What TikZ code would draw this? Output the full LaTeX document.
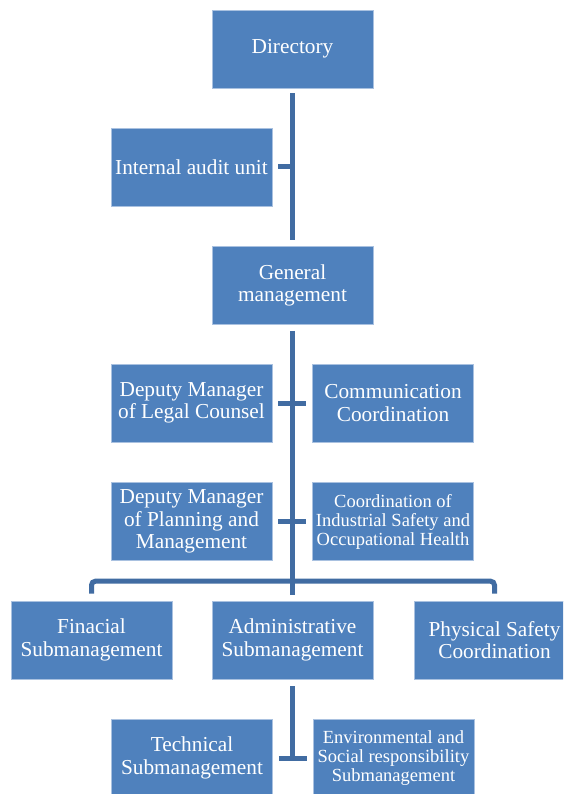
\documentclass[tikz,border=0pt]{standalone}
\usepackage{fontspec}
\setmainfont{Liberation Serif}
\usetikzlibrary{calc}
\definecolor{boxblue}{HTML}{4F81BD}
\definecolor{boxedge}{HTML}{A9C1E0}
\definecolor{linkblue}{HTML}{416CA2}
\tikzset{
  orgbox/.style={rectangle, fill=boxblue, draw=boxedge, line width=0.7pt,
    minimum width=161pt, minimum height=78pt, inner sep=0pt, text=white,
    align=center, font=\fontsize{21.3}{22.3}\selectfont},
  smallbox/.style={orgbox, font=\fontsize{18.5}{19}\selectfont},
  conn/.style={draw=linkblue, line width=5pt, line cap=butt}
}
\begin{document}
\begin{tikzpicture}[x=1pt, y=-1pt]
\clip (0,0) rectangle (563,794);
\fill[white] (0,0) rectangle (563,794);
\node[orgbox] (dir)   at (292.5,49)    {Directory};
\node[orgbox] (audit) at (191.5,167)   {Internal audit unit};
\node[orgbox] (gm)    at (292.5,285.5) {General\\management};
\node[orgbox] (legal) at (191.5,403)   {Deputy Manager\\of Legal Counsel};
\node[orgbox] (comm)  at (393,403)     {Communication\\Coordination};
\node[orgbox] (plan)  at (191.5,521.5) {Deputy Manager\\of Planning and\\Management};
\node[smallbox] (ind) at (393,521.5)   {Coordination of\\Industrial Safety and\\Occupational Health};
\node[orgbox] (fin)   at (91.5,640)    {Finacial\\Submanagement};
\node[orgbox] (adm)   at (292.5,640)   {Administrative\\Submanagement};
\node[orgbox] (phys)  at (494.5,640)   {Physical Safety\\Coordination};
\node[orgbox] (tech)  at (192,758)     {Technical\\Submanagement};
\node[smallbox] (env) at (393.5,758)   {Environmental and\\Social responsibility\\Submanagement};
% connectors
\draw[conn] ($(dir.south)+(0,5)$) -- ($(gm.north)+(0,-6.5)$);
\draw[conn] ($(audit.east)+(6,0)$) -- (audit.east -| dir.south);
\draw[conn] ($(gm.south)+(0,6)$) -- ($(adm.north)+(0,-6)$);
\draw[conn] ($(legal.east)+(6,0)$) -- ($(comm.west)+(-6,0)$);
\draw[conn] ($(plan.east)+(6,0)$) -- ($(ind.west)+(-6,0)$);
\draw[conn, rounded corners=4pt] ($(fin.north)+(0,-7)$) -- ++(0,-12.5) -| ($(phys.north)+(0,-7)$);
\draw[conn] ($(adm.south)+(0,7)$) -- (adm.south |- tech.east);
\draw[conn] ($(tech.east)+(6,0)$) -- ($(env.west)+(-6,0)$);
\end{tikzpicture}
\end{document}
